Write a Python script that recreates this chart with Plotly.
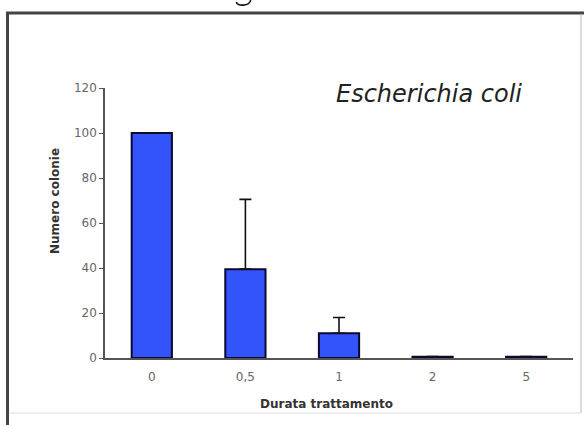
import plotly.graph_objects as go

# Colony counts by treatment duration (E. coli)
durations = ["0", "0,5", "1", "2", "5"]
colonies = [100, 39.5, 11, 0.6, 0.6]
err_up = [0, 31, 7, 0, 0]

# plot-area geometry in pixels, used to place the frame and labels
W, H = 584, 425
L, R, T, B = 105, 11, 88, 67
pw, ph = W - L - R, H - T - B


def px(x):
    return (x - L) / pw


def py(y):
    return (H - B - y) / ph


fig = go.Figure()
fig.add_trace(go.Bar(
    x=durations,
    y=colonies,
    width=0.43,
    marker=dict(color="#3254fa", line=dict(color="#0a0a30", width=2)),
    error_y=dict(type="data", array=err_up, symmetric=False, arrayminus=[0] * 5,
                 color="#111111", thickness=1.6, width=6, visible=True),
))

tick_font = dict(family="DejaVu Sans, sans-serif", size=12, color="#666666")
title_font = dict(family="DejaVu Sans, sans-serif", size=12, color="#333333")

fig.update_layout(
    width=W, height=H,
    margin=dict(l=L, r=R, t=T, b=B),
    paper_bgcolor="white", plot_bgcolor="white",
    showlegend=False,
    xaxis=dict(
        type="category", range=[-0.5, 4.5],
        showline=True, linecolor="#555555", linewidth=1.5,
        ticks="", showgrid=False, zeroline=False,
        tickfont=tick_font, ticklabelstandoff=7,
    ),
    yaxis=dict(
        range=[0, 120], tickvals=[0, 20, 40, 60, 80, 100, 120],
        showline=True, linecolor="#555555", linewidth=1.5,
        ticks="outside", ticklen=4, tickcolor="#555555",
        showgrid=False, zeroline=False,
        tickfont=tick_font,
    ),
)

# axis titles, placed off-centre as in the original layout
fig.add_annotation(
    x=px(326), y=py(404), xref="paper", yref="paper",
    text="<b>Durata trattamento</b>", showarrow=False, font=title_font,
    xanchor="center", yanchor="middle",
)
fig.add_annotation(
    x=px(55), y=py(201), xref="paper", yref="paper",
    text="<b>Numero colonie</b>", showarrow=False, font=title_font,
    textangle=-90, xanchor="center", yanchor="middle",
)

# species label inside the plot area
fig.add_annotation(
    x=px(429), y=py(94), xref="paper", yref="paper",
    text="<i>Escherichia coli</i>", showarrow=False,
    font=dict(family="DejaVu Sans, sans-serif", size=24, color="#222222"),
    xanchor="center", yanchor="middle",
)

# surrounding frame: dark top/left edges, light bottom/right edges
frame = [
    (6, 13, 584, 13, "#444444", 3),
    (7.5, 12, 7.5, 425, "#444444", 3),
    (581, 14, 581, 413, "#bbbbbb", 1),
    (9, 413, 581, 413, "#dddddd", 1),
]
for x0, y0, x1, y1, c, w in frame:
    fig.add_shape(type="line", xref="paper", yref="paper",
                  x0=px(x0), y0=py(y0), x1=px(x1), y1=py(y1),
                  line=dict(color=c, width=w), layer="above")

# descender stroke poking in at the top edge
fig.add_shape(
    type="path", xref="paper", yref="paper",
    path=(f"M {px(250.5)},{py(0)} C {px(251)},{py(6.5)} {px(236)},{py(6.5)} {px(236.5)},{py(2)}"),
    line=dict(color="#111111", width=1.6), layer="above",
)

fig.write_html("out.html")
